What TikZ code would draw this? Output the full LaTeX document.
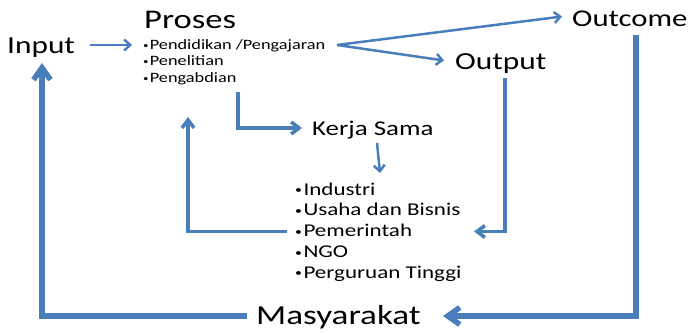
\documentclass[tikz,border=0pt]{standalone}
\usepackage{fontspec}
\setmainfont{Carlito}[FakeStretch=1.28]
\usetikzlibrary{arrows.meta}
\definecolor{lnblue}{RGB}{74,126,187}
\newcommand\bul{\raisebox{0.07em}{\scalebox{0.6}{•}}\kern0.08em}
\tikzset{
  lbl/.style={anchor=base west, inner sep=0pt, text=black},
  conn/.style={draw=lnblue, line join=miter, line cap=butt},
  thinc/.style={conn, line width=2.5pt, -{Straight Barb[length=6pt,width=11pt]}},
  medc/.style={conn, line width=3.5pt, -{Straight Barb[length=8pt,width=12pt]}},
  thickc/.style={conn, line width=5.5pt, -{Straight Barb[length=12pt,width=17pt]}},
  smallf/.style={font=\fontsize{14.3}{14.3}\selectfont},
  listf/.style={font=\fontsize{18}{18}\selectfont},
}
\begin{document}
\begin{tikzpicture}[x=1pt,y=-1pt]
\useasboundingbox (0,0) rectangle (692,332);
% texts
\node[lbl, font=\fontsize{24.5}{24.5}\selectfont] (input) at (7,53.5) {Input};
\node[lbl, font=\fontsize{27}{27}\selectfont] (proses) at (144,28.3) {Proses};
\node[lbl, smallf] (pA) at (143,49.3) {\bul Pendidikan /Pengajaran};
\node[lbl, smallf] (pB) at (143,65.8) {\bul Penelitian};
\node[lbl, smallf] (pC) at (143,82.3) {\bul Pengabdian};
\node[lbl, font=\fontsize{24}{24}\selectfont] (outcome) at (572,26.3) {Outcome};
\node[lbl, font=\fontsize{24.5}{24.5}\selectfont] (output) at (455,69.3) {Output};
\node[lbl, font=\fontsize{21}{21}\selectfont] (kerja) at (312,135) {Kerja Sama};
\node[lbl, listf] (kA) at (295,195) {\bul Industri};
\node[lbl, listf] (kB) at (295,215.8) {\bul Usaha dan Bisnis};
\node[lbl, listf] (kC) at (295,236.6) {\bul Pemerintah};
\node[lbl, listf] (kD) at (295,257.4) {\bul NGO};
\node[lbl, listf] (kE) at (295,278.2) {\bul Perguruan Tinggi};
\node[lbl, font=\fontsize{27.5}{27.5}\selectfont] (masy) at (256,324) {Masyarakat};
% connector points
\coordinate (inS) at (90,45);
\coordinate (inE) at (132,45);
\coordinate (fork) at (337,45);
\coordinate (ocE) at (562,16.5);
\coordinate (opE) at (444,60.5);
\coordinate (pkS) at (238,92);
\coordinate (pkC) at (238,128);
\coordinate (pkE) at (302,128);
\coordinate (klS) at (377,143);
\coordinate (klE) at (380,173);
\coordinate (kpS) at (287,231.5);
\coordinate (kpC) at (188,231.5);
\coordinate (kpE) at (188,117);
\coordinate (okS) at (505,78);
\coordinate (okC) at (505,231.5);
\coordinate (okE) at (474,231.5);
\coordinate (omS) at (636,35);
\coordinate (omC) at (636,316);
\coordinate (omE) at (443,316);
\coordinate (miS) at (247,316);
\coordinate (miC) at (42,316);
\coordinate (miE) at (42,63);
% connectors
\draw[thinc] (inS) -- (inE);
\draw[thinc] (fork) -- (ocE);
\draw[thinc] (fork) -- (opE);
\draw[medc] (pkS) -- (pkC) -- (pkE);
\draw[thinc] (klS) -- (klE);
\draw[medc] (kpS) -- (kpC) -- (kpE);
\draw[medc] (okS) -- (okC) -- (okE);
\draw[thickc] (omS) -- (omC) -- (omE);
\draw[thickc] (miS) -- (miC) -- (miE);
\end{tikzpicture}
\end{document}
